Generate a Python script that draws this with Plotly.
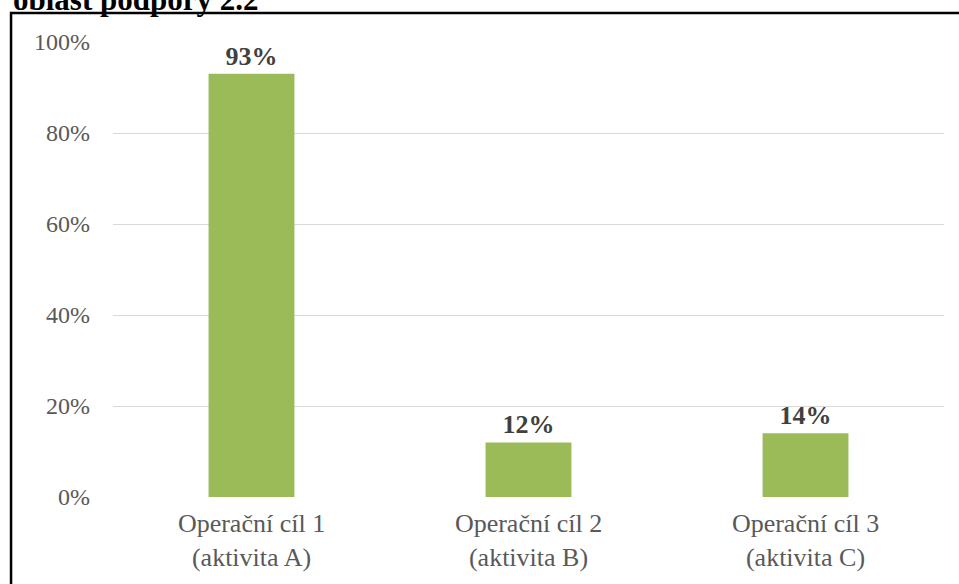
import plotly.graph_objects as go

categories = ["Operační cíl 1<br>(aktivita A)", "Operační cíl 2<br>(aktivita B)", "Operační cíl 3<br>(aktivita C)"]
shares = [0.93, 0.12, 0.14]
labels = ["93%", "12%", "14%"]
y_ticks = [0, 0.2, 0.4, 0.6, 0.8, 1.0]
y_tick_text = ["0%", "20%", "40%", "60%", "80%", "100%"]
title_text = "oblast podpory 2.2"

serif = "Liberation Serif, Times New Roman, serif"

fig = go.Figure(go.Bar(
    x=categories, y=shares, text=labels, textposition="outside",
    textfont=dict(family=serif, size=26, color="#404040", weight="bold"),
    marker=dict(color="#9BBB59", line=dict(width=0)),
    width=0.31, cliponaxis=False,
))

fig.update_layout(
    width=959, height=584,
    margin=dict(l=113, r=15, t=42, b=87),
    paper_bgcolor="white", plot_bgcolor="white",
    showlegend=False,
    font=dict(family=serif, size=24, color="#595959"),
    xaxis=dict(showgrid=False, showline=False, ticks="", tickfont=dict(size=26),
               ticklabelstandoff=8),
    yaxis=dict(range=[0, 1.0], tickvals=y_ticks, ticktext=y_tick_text,
               showgrid=True, gridcolor="#D9D9D9", gridwidth=1,
               zeroline=False, showline=False, ticks="", ticklabelstandoff=22),
    # border frame round the chart, runs off the right and bottom edges
    shapes=[dict(type="rect", xref="paper", yref="paper",
                 x0=-0.1227, x1=1.1, y0=-0.3, y1=1.0637,
                 line=dict(color="black", width=2.5), layer="above")],
    annotations=[dict(text="<b>" + title_text + "</b>", xref="paper", yref="paper",
                      x=-0.1227, y=1.0945, xanchor="left", yanchor="middle",
                      showarrow=False, font=dict(family=serif, size=31, color="black"))],
)

# drop the page's default body margin so the figure sits at the window's corner
fig.write_html("out.html", config={"displayModeBar": False},
               post_script="document.body.style.margin='0';")
